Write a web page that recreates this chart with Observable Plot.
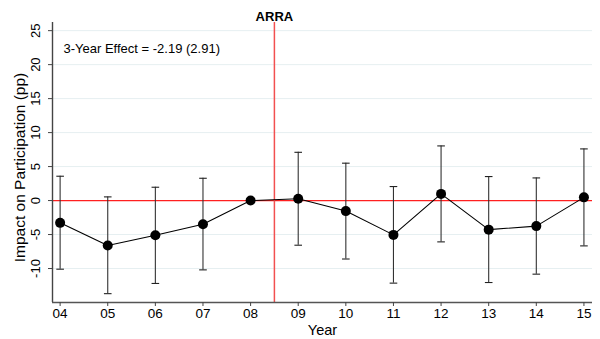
<!DOCTYPE html>
<html>
<head>
<meta charset="utf-8">
<script src="https://cdn.jsdelivr.net/npm/d3@7"></script>
<script src="https://cdn.jsdelivr.net/npm/@observablehq/plot@0.6"></script>
<style>
  html, body { margin: 0; padding: 0; background: #fff; }
  #chart svg { display: block; }
</style>
</head>
<body>
<div id="chart"></div>
<script>
// Data
const years = [4, 5, 6, 7, 8, 9, 10, 11, 12, 13, 14, 15];
const yearLabels = ["04", "05", "06", "07", "08", "09", "10", "11", "12", "13", "14", "15"];
const estimates = [-3.28, -6.62, -5.1, -3.48, 0, 0.27, -1.55, -5.05, 0.98, -4.28, -3.76, 0.47];
const lower = [-10.1, -13.7, -12.2, -10.2, null, -6.57, -8.6, -12.15, -6.08, -12.06, -10.83, -6.67];
const upper = [3.58, 0.54, 1.96, 3.28, null, 7.1, 5.5, 2.06, 8.04, 3.53, 3.33, 7.6];
const yTicks = [-10, -5, 0, 5, 10, 15, 20, 25];
const gridValues = [-10, -5, 5, 10, 15, 20, 25];
const eventYear = 8.5;
const eventLabel = "ARRA";
const effectLabel = "3-Year Effect = -2.19 (2.91)";
const xTitle = "Year";
const yTitle = "Impact on Participation (pp)";

const xDomain = [3.84, 15.18];
const yDomain = [-15, 26.2];

const data = years.map((y, i) => ({year: y, label: yearLabels[i], est: estimates[i], lo: lower[i], hi: upper[i]}));
const bars = data.filter(d => d.lo != null);
const capHalf = 0.08;
const font = "Liberation Sans, Arial, Helvetica, sans-serif";

const chart = Plot.plot({
  width: 600,
  height: 339,
  marginLeft: 52,
  marginRight: 8,
  marginTop: 22,
  marginBottom: 37,
  style: {fontFamily: font, fontSize: "13px", color: "#000", background: "#fff"},
  x: {domain: xDomain},
  y: {domain: yDomain},
  marks: [
    // gridlines
    Plot.ruleY(gridValues, {x1: xDomain[0], x2: xDomain[1], stroke: "#e6eff1", strokeWidth: 1}),
    // zero line
    Plot.ruleY([0], {x1: xDomain[0], x2: xDomain[1], stroke: "#ff2020", strokeWidth: 1.2}),
    // event line
    Plot.ruleX([eventYear], {y1: yDomain[0], y2: yDomain[1], stroke: "#f25050", strokeWidth: 1.5}),
    // axes lines
    Plot.ruleX([xDomain[0]], {y1: yDomain[0], y2: yDomain[1], stroke: "#444", strokeWidth: 1.4}),
    Plot.ruleY([yDomain[0]], {x1: xDomain[0], x2: xDomain[1], stroke: "#555", strokeWidth: 1.6}),
    // x axis ticks and labels
    Plot.axisX({ticks: years, tickSize: 4, tickPadding: 2, tickFormat: d => yearLabels[years.indexOf(d)], label: null, fontSize: 13.5, stroke: "#444", fill: "#000"}),
    // y axis ticks
    Plot.axisY({ticks: yTicks, tickSize: 4, tickFormat: () => "", label: null, stroke: "#444"}),
    // y tick labels rotated
    Plot.text(yTicks, {y: d => d, frameAnchor: "left", dx: -17, text: d => String(d), rotate: -90, textAnchor: "middle", lineAnchor: "middle", fontSize: 13, fill: "#000"}),
    // error bars
    Plot.ruleX(bars, {x: "year", y1: "lo", y2: "hi", stroke: "#333", strokeWidth: 1.1}),
    Plot.link(bars, {x1: d => d.year - capHalf, x2: d => d.year + capHalf, y1: "hi", y2: "hi", stroke: "#222", strokeWidth: 1.1}),
    Plot.link(bars, {x1: d => d.year - capHalf, x2: d => d.year + capHalf, y1: "lo", y2: "lo", stroke: "#222", strokeWidth: 1.1}),
    // connecting line and points
    Plot.line(data, {x: "year", y: "est", stroke: "#000", strokeWidth: 1.1}),
    Plot.dot(data, {x: "year", y: "est", r: 5, fill: "#000", stroke: "none"}),
    // annotations
    Plot.text([eventLabel], {x: eventYear, frameAnchor: "top", dy: -6, text: d => d, fontWeight: "bold", fontSize: 13, lineAnchor: "middle", fill: "#000"}),
    Plot.text([effectLabel], {frameAnchor: "top-left", dx: 11, dy: 26, text: d => d, textAnchor: "start", lineAnchor: "middle", fontSize: 13, fill: "#000"}),
    // axis titles
    Plot.text([xTitle], {frameAnchor: "bottom", dy: 28, text: d => d, lineAnchor: "middle", fontSize: 14.5, fill: "#000"}),
    Plot.text([yTitle], {frameAnchor: "left", dx: -32, dy: 5, text: d => d, rotate: -90, textAnchor: "middle", lineAnchor: "middle", fontSize: 15.5, fill: "#000"})
  ]
});
document.getElementById("chart").appendChild(chart);
</script>
</body>
</html>
